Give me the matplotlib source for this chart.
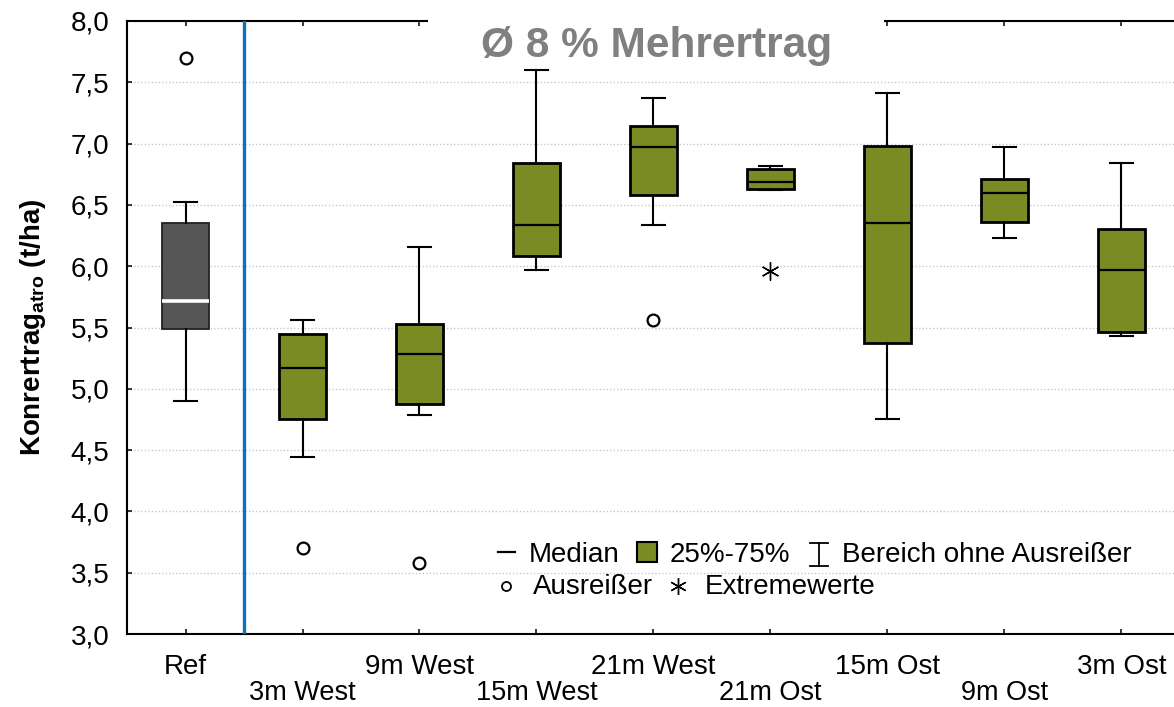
import matplotlib
matplotlib.use('Agg')
import matplotlib.pyplot as plt
from matplotlib.patches import Rectangle
from matplotlib.lines import Line2D

plt.rcParams['font.family'] = ['Liberation Sans', 'DejaVu Sans']
plt.rcParams['mathtext.fontset'] = 'custom'
plt.rcParams['mathtext.rm'] = 'Liberation Sans'
plt.rcParams['mathtext.bf'] = 'Liberation Sans:bold'

# ---------------- data ----------------
categories = ['Ref', '3m West', '9m West', '15m West', '21m West',
              '21m Ost', '15m Ost', '9m Ost', '3m Ost']
q1 = [5.49, 4.75, 4.88, 6.08, 6.58, 6.63, 5.37, 6.36, 5.46]
medians = [5.72, 5.17, 5.28, 6.34, 6.97, 6.69, 6.35, 6.60, 5.97]
q3 = [6.35, 5.45, 5.53, 6.84, 7.14, 6.79, 6.98, 6.71, 6.30]
whisker_low = [4.90, 4.44, 4.79, 5.97, 6.34, 6.62, 4.75, 6.23, 5.43]
whisker_high = [6.52, 5.56, 6.16, 7.60, 7.37, 6.82, 7.41, 6.97, 6.84]
outliers = [[7.70], [3.70], [3.58], [], [5.56], [], [], [], []]
extremes = [[], [], [], [], [], [5.96], [], [], []]
yticks = [3.0, 3.5, 4.0, 4.5, 5.0, 5.5, 6.0, 6.5, 7.0, 7.5, 8.0]
ytick_labels = ['3,0', '3,5', '4,0', '4,5', '5,0', '5,5', '6,0', '6,5',
                '7,0', '7,5', '8,0']
title_text = 'Ø 8 % Mehrertrag'
ylabel_text = r'Konrertrag$_{\mathbf{atro}}$ (t/ha)'
legend_row1 = ['Median', '25%-75%', 'Bereich ohne Ausreißer']
legend_row2 = ['Ausreißer', 'Extremewerte']

GREEN = '#798b22'
GRAY = '#565656'
BLUE = '#0b72c2'

W, H = 1174, 707
fig = plt.figure(figsize=(W / 100, H / 100), dpi=100)
fig.patch.set_facecolor('white')


def fx(px):
    return px / W


def fy(py):
    return 1 - py / H


ax = fig.add_axes([fx(127), 73 / H, 1053 / W, 613 / H])

positions = list(range(len(categories)))
stats = []
for i in positions:
    stats.append(dict(med=medians[i], q1=q1[i], q3=q3[i],
                      whislo=whisker_low[i], whishi=whisker_high[i],
                      fliers=outliers[i], label=categories[i]))

res = ax.bxp(stats, positions=positions, widths=0.4, capwidths=0.19,
             patch_artist=True, showfliers=True,
             boxprops=dict(facecolor=GREEN, edgecolor='black', linewidth=2.0),
             medianprops=dict(color='black', linewidth=1.6),
             whiskerprops=dict(color='black', linewidth=1.5),
             capprops=dict(color='black', linewidth=1.5),
             flierprops=dict(marker='o', markerfacecolor='none',
                             markeredgecolor='black', markersize=8.5,
                             markeredgewidth=1.6),
             zorder=4)
res['boxes'][0].set_facecolor(GRAY)
res['boxes'][0].set_edgecolor('#222222')
res['boxes'][0].set_linewidth(1.3)
res['medians'][0].set_color('white')
res['medians'][0].set_linewidth(2.6)

for i in positions:
    if extremes[i]:
        ax.plot([i] * len(extremes[i]), extremes[i], linestyle='none',
                marker=(6, 2, 0), markersize=13, markeredgewidth=1.0,
                color='black', zorder=5)

# separator between reference and treatments
ax.axvline(0.5, color=BLUE, linewidth=2.4, zorder=3)

ax.set_xlim(-0.5, len(categories) - 0.5)
ax.set_ylim(3.0, 8.0)
ax.set_yticks(yticks, ytick_labels)
ax.yaxis.grid(True, linestyle=(0, (1, 1.5)), color='#c8c8c8', linewidth=1.0)
ax.set_axisbelow(True)

even = [i for i in positions if i % 2 == 0]
odd = [i for i in positions if i % 2 == 1]
ax.set_xticks(even, [categories[i] for i in even])
ax.set_xticks(odd, [categories[i] for i in odd], minor=True)

ax.tick_params(axis='both', which='both', direction='in', length=3.6,
               width=1.1, labelsize=20, top=True, right=False, colors='black')
ax.tick_params(axis='x', which='major', pad=14.4)
ax.tick_params(axis='x', which='minor', pad=33.3, labelsize=19.5)
ax.tick_params(axis='y', which='major', pad=12.7)
ax.tick_params(axis='y', which='minor', left=False)

for side in ['left', 'bottom', 'top']:
    ax.spines[side].set_linewidth(1.5)
ax.spines['right'].set_visible(False)

ax.set_ylabel(ylabel_text, fontsize=20, fontweight='bold', va='center')
ax.yaxis.set_label_coords((33 - 127) / 1053, 0.5)

# white box behind the annotation, covering part of the top frame
fig.patches.append(Rectangle((fx(428), fy(62)), (884 - 428) / W, 62 / H,
                             transform=fig.transFigure, facecolor='white',
                             edgecolor='none', zorder=2))
fig.text(fx(657), fy(46), title_text, ha='center', va='center',
         fontsize=30.5, fontweight='bold', color='#808080', zorder=3)

# ---------------- legend (drawn manually) ----------------
fig.lines.append(Line2D([fx(498), fx(515)], [fy(552), fy(552)],
                        transform=fig.transFigure, color='black', lw=1.6,
                        zorder=3))
fig.text(fx(529), fy(562.5), legend_row1[0], ha='left', va='baseline',
         fontsize=20, zorder=3)
fig.patches.append(Rectangle((fx(637), fy(562)), 20 / W, 20 / H,
                             transform=fig.transFigure, facecolor=GREEN,
                             edgecolor='black', linewidth=1.5, zorder=3))
fig.text(fx(670), fy(562.5), legend_row1[1], ha='left', va='baseline',
         fontsize=20, zorder=3)
for seg in ([(810, 543), (828, 543)], [(819, 543), (819, 566)],
            [(810, 566), (828, 566)]):
    fig.lines.append(Line2D([fx(seg[0][0]), fx(seg[1][0])],
                            [fy(seg[0][1]), fy(seg[1][1])],
                            transform=fig.transFigure, color='black',
                            lw=1.3, zorder=3))
fig.text(fx(842), fy(562.5), legend_row1[2], ha='left', va='baseline',
         fontsize=20, zorder=3)

fig.lines.append(Line2D([fx(506)], [fy(586)], transform=fig.transFigure,
                        linestyle='none', marker='o', markersize=6.5,
                        markerfacecolor='none', markeredgecolor='black',
                        markeredgewidth=1.3, zorder=3))
fig.text(fx(533), fy(594), legend_row2[0], ha='left', va='baseline',
         fontsize=20, zorder=3)
fig.lines.append(Line2D([fx(678)], [fy(586)], transform=fig.transFigure,
                        linestyle='none', marker=(6, 2, 0), markersize=12,
                        color='black', markeredgewidth=1.0, zorder=3))
fig.text(fx(705), fy(594), legend_row2[1], ha='left', va='baseline',
         fontsize=20, zorder=3)

fig.savefig('out.png', dpi=100, facecolor='white')
